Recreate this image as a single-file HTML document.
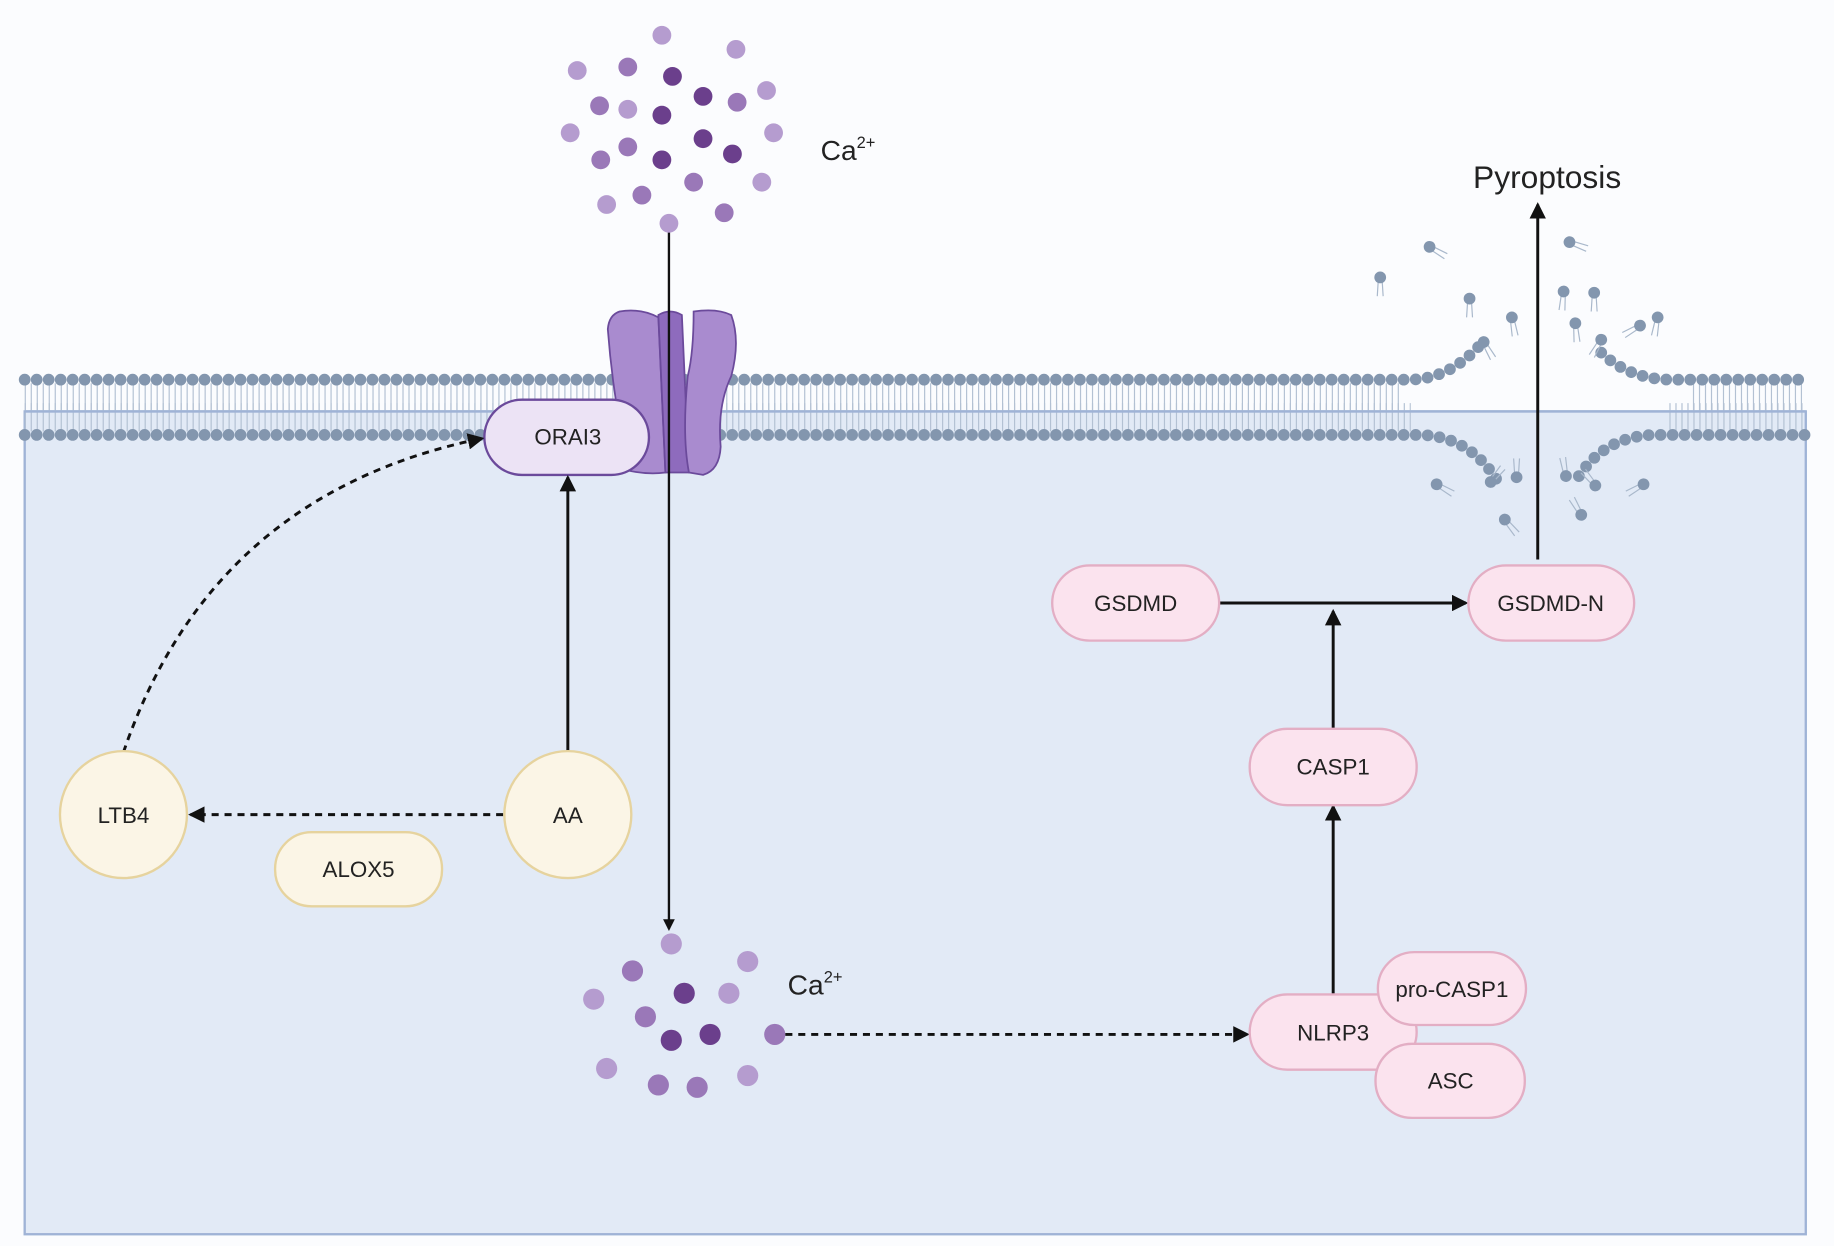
<!DOCTYPE html>
<html><head><meta charset="utf-8"><style>
html,body{margin:0;padding:0;background:#fbfcfe;}
svg{display:block;}
text{font-family:"Liberation Sans",sans-serif;fill:#222;}
</style></head><body>
<svg width="1834" height="1246" viewBox="0 0 1560 1060" preserveAspectRatio="none" xmlns="http://www.w3.org/2000/svg">
<defs>
<marker id="ah" markerWidth="10" markerHeight="10" refX="8" refY="5" orient="auto" markerUnits="userSpaceOnUse"><path d="M0,0 L10,5 L0,10 z" fill="#111"/></marker>
<marker id="ah2" markerWidth="14" markerHeight="14" refX="12" refY="7" orient="auto" markerUnits="userSpaceOnUse"><path d="M0,0 L14,7 L0,14 z" fill="#111"/></marker>
<g id="lip"><line x1="-1.5" y1="0" x2="-2.5" y2="16" stroke="#a9b8cb" stroke-width="1"/><line x1="1.5" y1="0" x2="2.5" y2="16" stroke="#a9b8cb" stroke-width="1"/><circle r="5" fill="#8396ae"/></g>
</defs>
<rect x="0" y="0" width="1560" height="1060" fill="#fbfcfe"/>
<rect x="21" y="350" width="1515" height="700" fill="#e2eaf6" stroke="#9fb3d6" stroke-width="2"/>
<!-- membrane tails -->
<path d="M21,338 H1190 M1440,338 H1536" stroke="#b3c1d3" stroke-width="24" stroke-dasharray="1 4.1"/>
<path d="M21,355 H1200 M1420,355 H1536" stroke="#b3c1d3" stroke-width="24" stroke-dasharray="1 4.1"/>
<line x1="21" y1="350" x2="1536" y2="350" stroke="#9fb3d6" stroke-width="2"/>
<!-- heads -->
<path d="M21,323 H1200 Q1235,322 1262,290" fill="none" stroke="#8396ae" stroke-width="10" stroke-linecap="round" stroke-dasharray="0 10.2"/>
<path d="M1362,300 Q1385,322 1420,323 H1536" fill="none" stroke="#8396ae" stroke-width="10" stroke-linecap="round" stroke-dasharray="0 10.2"/>
<path d="M21,370 H1210 Q1250,372 1273,408" fill="none" stroke="#8396ae" stroke-width="10" stroke-linecap="round" stroke-dasharray="0 10.2"/>
<path d="M1343,405 Q1365,372 1405,370 H1536" fill="none" stroke="#8396ae" stroke-width="10" stroke-linecap="round" stroke-dasharray="0 10.2"/>
<!-- scattered lipids -->
<use href="#lip" transform="translate(1216,210) rotate(-60)"/>
<use href="#lip" transform="translate(1174,236)"/>
<use href="#lip" transform="translate(1250,254)"/>
<use href="#lip" transform="translate(1286,270) rotate(-10)"/>
<use href="#lip" transform="translate(1262,291) rotate(-30)"/>
<use href="#lip" transform="translate(1335,206) rotate(-70)"/>
<use href="#lip" transform="translate(1330,248) rotate(5)"/>
<use href="#lip" transform="translate(1356,249)"/>
<use href="#lip" transform="translate(1340,275) rotate(-5)"/>
<use href="#lip" transform="translate(1362,289) rotate(30)"/>
<use href="#lip" transform="translate(1395,277) rotate(60)"/>
<use href="#lip" transform="translate(1410,270) rotate(10)"/>
<use href="#lip" transform="translate(1222,412) rotate(-60)"/>
<use href="#lip" transform="translate(1268,410) rotate(-140)"/>
<use href="#lip" transform="translate(1290,406) rotate(180)"/>
<use href="#lip" transform="translate(1280,442) rotate(-40)"/>
<use href="#lip" transform="translate(1332,405) rotate(170)"/>
<use href="#lip" transform="translate(1357,413) rotate(140)"/>
<use href="#lip" transform="translate(1345,438) rotate(150)"/>
<use href="#lip" transform="translate(1398,412) rotate(60)"/>
<!-- channel -->
<path d="M527,265 Q545,262 560,270 L566,402 Q550,404 533,400 Q528,380 527,360 Q520,320 517,280 Q518,268 527,265z" fill="#a98bcf" stroke="#6b4a9b" stroke-width="1.5"/>
<path d="M560,268 Q570,262 580,268 L586,402 L566,402z" fill="#8e6bbd" stroke="#6b4a9b" stroke-width="1.5"/>
<path d="M590,265 Q610,262 622,268 Q630,290 622,320 Q610,345 613,380 Q612,400 598,404 L586,402 Q580,370 585,320 Q590,300 590,265z" fill="#a98bcf" stroke="#6b4a9b" stroke-width="1.5"/>
<!-- ORAI3 -->
<rect x="412" y="340" width="140" height="64" rx="32" fill="#ece3f5" stroke="#6b4a9b" stroke-width="2"/>
<text x="483" y="378" font-size="19" text-anchor="middle">ORAI3</text>
<!-- Ca line -->
<line x1="569" y1="197" x2="569" y2="790" stroke="#111" stroke-width="2" marker-end="url(#ah)"/>
<!-- top Ca dots -->
<g>
<circle cx="563" cy="30" r="8" fill="#b59ccf"/><circle cx="626" cy="42" r="8" fill="#b59ccf"/><circle cx="491" cy="60" r="8" fill="#b59ccf"/><circle cx="534" cy="57" r="8" fill="#9a78b8"/><circle cx="572" cy="65" r="8" fill="#6b3f8c"/><circle cx="652" cy="77" r="8" fill="#b59ccf"/><circle cx="510" cy="90" r="8" fill="#9a78b8"/><circle cx="534" cy="93" r="8" fill="#b59ccf"/><circle cx="598" cy="82" r="8" fill="#6b3f8c"/><circle cx="627" cy="87" r="8" fill="#9a78b8"/><circle cx="563" cy="98" r="8" fill="#6b3f8c"/><circle cx="485" cy="113" r="8" fill="#b59ccf"/><circle cx="658" cy="113" r="8" fill="#b59ccf"/><circle cx="598" cy="118" r="8" fill="#6b3f8c"/><circle cx="534" cy="125" r="8" fill="#9a78b8"/><circle cx="623" cy="131" r="8" fill="#6b3f8c"/><circle cx="511" cy="136" r="8" fill="#9a78b8"/><circle cx="563" cy="136" r="8" fill="#6b3f8c"/><circle cx="590" cy="155" r="8" fill="#9a78b8"/><circle cx="648" cy="155" r="8" fill="#b59ccf"/><circle cx="546" cy="166" r="8" fill="#9a78b8"/><circle cx="516" cy="174" r="8" fill="#b59ccf"/><circle cx="616" cy="181" r="8" fill="#9a78b8"/><circle cx="569" cy="190" r="8" fill="#b59ccf"/>
</g>
<text x="698" y="136" font-size="24">Ca<tspan font-size="14" dy="-10">2+</tspan></text>
<!-- bottom Ca dots -->
<g>
<circle cx="571" cy="803" r="9" fill="#b59ccf"/><circle cx="636" cy="818" r="9" fill="#b59ccf"/><circle cx="538" cy="826" r="9" fill="#9a78b8"/><circle cx="582" cy="845" r="9" fill="#6b3f8c"/><circle cx="620" cy="845" r="9" fill="#b59ccf"/><circle cx="505" cy="850" r="9" fill="#b59ccf"/><circle cx="549" cy="865" r="9" fill="#9a78b8"/><circle cx="571" cy="885" r="9" fill="#6b3f8c"/><circle cx="604" cy="880" r="9" fill="#6b3f8c"/><circle cx="659" cy="880" r="9" fill="#9a78b8"/><circle cx="516" cy="909" r="9" fill="#b59ccf"/><circle cx="636" cy="915" r="9" fill="#b59ccf"/><circle cx="560" cy="923" r="9" fill="#9a78b8"/><circle cx="593" cy="925" r="9" fill="#9a78b8"/>
</g>
<text x="670" y="846" font-size="24">Ca<tspan font-size="14" dy="-10">2+</tspan></text>
<!-- Pyroptosis -->
<text x="1316" y="160" font-size="27" text-anchor="middle">Pyroptosis</text>
<line x1="1308" y1="476" x2="1308" y2="174" stroke="#111" stroke-width="2.5" marker-end="url(#ah2)"/>
<!-- GSDMD arrows -->
<line x1="1037" y1="513" x2="1247" y2="513" stroke="#111" stroke-width="2.5" marker-end="url(#ah2)"/>
<line x1="1134" y1="620" x2="1134" y2="520" stroke="#111" stroke-width="2.5" marker-end="url(#ah2)"/>
<line x1="1134" y1="848" x2="1134" y2="686" stroke="#111" stroke-width="2.5" marker-end="url(#ah2)"/>
<line x1="668" y1="880" x2="1061" y2="880" stroke="#111" stroke-width="2.5" stroke-dasharray="6 5" marker-end="url(#ah2)"/>
<g fill="#fbe3ee" stroke="#e3aec4" stroke-width="2">
<rect x="895" y="481" width="142" height="64" rx="32"/>
<rect x="1249" y="481" width="141" height="64" rx="32"/>
<rect x="1063" y="620" width="142" height="65" rx="32"/>
<rect x="1063" y="846" width="142" height="64" rx="32"/>
<rect x="1172" y="810" width="126" height="62" rx="31"/>
<rect x="1170" y="888" width="127" height="63" rx="31"/>
</g>
<g font-size="19" text-anchor="middle">
<text x="966" y="520">GSDMD</text>
<text x="1319" y="520">GSDMD-N</text>
<text x="1134" y="659">CASP1</text>
<text x="1134" y="885">NLRP3</text>
<text x="1235" y="848">pro-CASP1</text>
<text x="1234" y="926">ASC</text>
</g>
<!-- left pathway -->
<path d="M105,640 Q180,420 410,373" fill="none" stroke="#111" stroke-width="2.5" stroke-dasharray="6 5" marker-end="url(#ah2)"/>
<line x1="483" y1="640" x2="483" y2="406" stroke="#111" stroke-width="2.5" marker-end="url(#ah2)"/>
<line x1="428" y1="693" x2="162" y2="693" stroke="#111" stroke-width="2.5" stroke-dasharray="6 5" marker-end="url(#ah2)"/>
<g fill="#fbf5e6" stroke="#e6d39e" stroke-width="2">
<circle cx="483" cy="693" r="54"/>
<circle cx="105" cy="693" r="54"/>
<rect x="234" y="708" width="142" height="63" rx="31"/>
</g>
<g font-size="19" text-anchor="middle">
<text x="483" y="700">AA</text>
<text x="105" y="700">LTB4</text>
<text x="305" y="746">ALOX5</text>
</g>
</svg>
</body></html>
